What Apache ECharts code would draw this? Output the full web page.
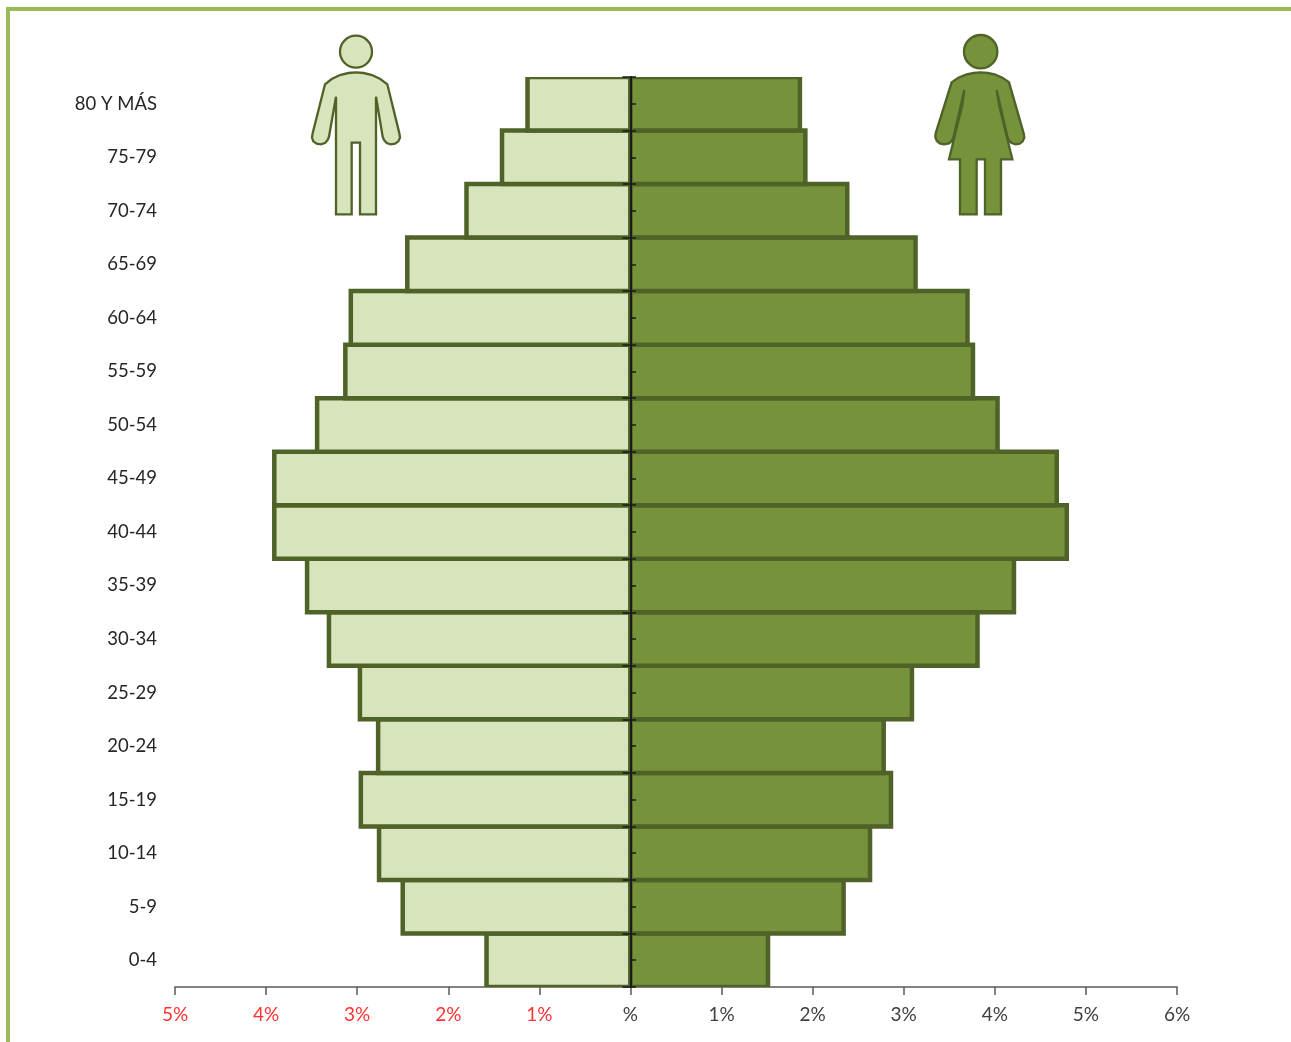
<!DOCTYPE html>
<html>
<head>
<meta charset="utf-8">
<style>
html,body{margin:0;padding:0;background:#fff}
#chart{width:1291px;height:1042px}
</style>
<script src="https://cdn.jsdelivr.net/npm/echarts@6/dist/echarts.min.js"></script>
</head>
<body>
<div id="chart"></div>
<script>
// grupos de edad, de abajo hacia arriba
var ages = ['0-4','5-9','10-14','15-19','20-24','25-29','30-34','35-39','40-44','45-49','50-54','55-59','60-64','65-69','70-74','75-79','80 Y MÁS'];
var hombres = [1.58,2.50,2.76,2.96,2.77,2.97,3.31,3.55,3.91,3.91,3.44,3.13,3.07,2.45,1.80,1.41,1.13];
var mujeres = [1.51,2.34,2.63,2.86,2.78,3.09,3.81,4.21,4.79,4.68,4.03,3.76,3.70,3.13,2.38,1.92,1.86];

var COLOR_H = '#D8E4BC', COLOR_M = '#76933C', BORDE = '#4F6228', LINEA = '#595959';

// siluetas, en unidades de 1/3 de pixel
var man = [[75,178],[95,162],[120,150],[145,144],[168,142],[191,144],[216,150],[241,162],[262,178],[298,325],[300,338],[295,349],[285,356],[272,358],[260,354],[252,345],[248,335],[228,215],[228,568],[180,568],[180,353],[155,353],[155,568],[108,568],[108,215],[87,335],[83,345],[75,354],[62,358],[50,356],[40,349],[36,338],[38,325]];
var woman = [[80,172],[100,158],[125,148],[146,144],[167,142],[188,144],[209,148],[232,158],[252,172],[296,325],[298,338],[293,349],[284,356],[272,358],[260,354],[252,347],[248,338],[215,195],[222,240],[262,403],[228,403],[228,568],[180,568],[180,403],[155,403],[155,568],[105,568],[105,403],[72,403],[112,240],[118,195],[85,338],[80,348],[72,355],[57,358],[44,355],[35,347],[31,336],[32,325]];

function figure(x, y, points, cx, r, fill) {
	return {
		type: 'group', x: x, y: y, scaleX: 1/3, scaleY: 1/3,
		children: [
			{type: 'polygon', shape: {points: points}, style: {fill: fill, stroke: BORDE, lineWidth: 7}},
			{type: 'circle', shape: {cx: cx, cy: 80, r: r}, style: {fill: fill, stroke: BORDE, lineWidth: 7}}
		]
	};
}

// las barras normales meten el borde hacia dentro; aqui el borde va centrado en el valor
function barra(fill) {
	return function (params, api) {
		var p0 = api.coord([0, api.value(1)]);
		var p1 = api.coord([api.value(0), api.value(1)]);
		var h = api.size([0, 1])[1];
		return {
			type: 'rect',
			shape: {x: Math.min(p0[0], p1[0]), y: p0[1] - h / 2, width: Math.abs(p1[0] - p0[0]), height: h},
			style: {fill: fill, stroke: BORDE, lineWidth: 4.5}
		};
	};
}

var chart = echarts.init(document.getElementById('chart'));
chart.setOption({
	animation: false,
	textStyle: {fontFamily: 'Lato'},
	grid: {left: 175, top: 77, width: 1002, height: 910, outerBoundsMode: 'none'},
	xAxis: {
		type: 'value', min: -5, max: 6, interval: 1,
		splitLine: {show: false},
		axisLine: {show: true, onZero: false, lineStyle: {color: LINEA, width: 1.5}},
		axisTick: {show: true, length: 8, lineStyle: {color: LINEA, width: 1.5}},
		axisLabel: {
			fontSize: 19, margin: 18, fontFamily: 'Lato',
			color: function (v) { return v < 0 ? '#FF3333' : '#404040'; },
			formatter: function (v) { return v === 0 ? '%' : Math.abs(v) + '%'; }
		}
	},
	yAxis: [
		{
			type: 'category', data: ages, z: 5,
			axisLine: {show: true, onZero: true, lineStyle: {color: '#1a1a1a', width: 2}},
			axisTick: {show: true, length: 8, lineStyle: {color: '#1a1a1a', width: 1.5}},
			axisLabel: {fontSize: 18.5, margin: 18, padding: [3, 0, 0, 0], color: '#262626', fontFamily: 'Lato'}
		},
		{
			type: 'category', data: ages, z: 5, position: 'left', offset: -456,
			axisLine: {show: false, onZero: false},
			axisTick: {show: true, inside: true, length: 5, lineStyle: {color: '#1a1a1a', width: 1.5}},
			axisLabel: {show: false}
		},
		{
			type: 'category', data: ages, z: 5, position: 'left', offset: -456,
			axisLine: {show: false, onZero: false},
			axisTick: {show: true, inside: true, alignWithLabel: true, length: 5, lineStyle: {color: '#1a1a1a', width: 1.5}},
			axisLabel: {show: false}
		}
	],
	series: [
		{
			name: 'Hombres', type: 'custom', renderItem: barra(COLOR_H), clip: true,
			encode: {x: 0, y: 1},
			data: hombres.map(function (v, i) { return [-v, i]; })
		},
		{
			name: 'Mujeres', type: 'custom', renderItem: barra(COLOR_M), clip: true,
			encode: {x: 0, y: 1},
			data: mujeres.map(function (v, i) { return [v, i]; })
		}
	],
	graphic: [
		{type: 'rect', shape: {x: 6, y: 7, width: 1285, height: 4}, style: {fill: '#9BBB59'}},
		{type: 'rect', shape: {x: 6, y: 7, width: 4, height: 1035}, style: {fill: '#9BBB59'}},
		figure(300, 25, man, 168, 48, COLOR_H),
		figure(925, 25, woman, 167, 50, COLOR_M)
	]
});
</script>
</body>
</html>
